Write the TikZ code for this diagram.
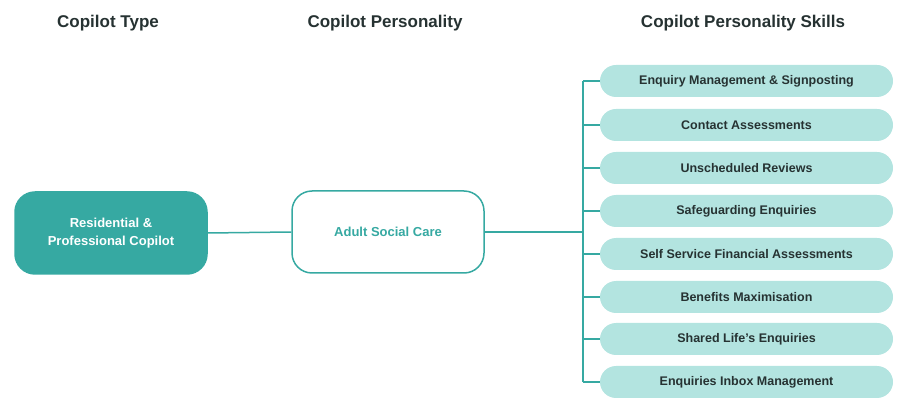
\documentclass[tikz,border=0pt]{standalone}
\usepackage{fontspec}
\setmainfont{Liberation Sans}
\definecolor{teal1}{HTML}{36A9A2}
\definecolor{pill}{HTML}{B3E4E0}
\definecolor{txt}{HTML}{263232}
\begin{document}
\begin{tikzpicture}[x=1pt,y=-1pt,
  hdr/.style={font=\bfseries\fontsize{17}{20}\selectfont, text=txt},
  bigbox/.style={rounded corners=20pt, minimum width=192pt, minimum height=82pt, align=center, font=\bfseries\fontsize{13}{18}\selectfont, line width=1.5pt},
  pillbox/.style={rounded corners=16pt, fill=pill, minimum width=293pt, minimum height=32pt, font=\bfseries\fontsize{12.5}{14}\selectfont, text=txt, inner sep=0pt},
  conn/.style={draw=teal1, line width=1.5pt}]
\useasboundingbox (0,0) rectangle (913,411);
\node[hdr] at (108,23) {Copilot Type};
\node[hdr] at (385,23) {Copilot Personality};
\node[hdr] at (743,23) {Copilot Personality Skills};
\node[bigbox, fill=teal1, draw=teal1, text=white] (rp) at (111,233) {Residential \&\\Professional Copilot};
\node[bigbox, fill=white, draw=teal1, text=teal1] (asc) at (388,232) {Adult Social Care};
\draw[conn] (rp.east) -- (asc.west);
\coordinate (j) at (583,232);
\draw[conn] (asc.east) -- (j);
\foreach \i/\y/\t in {1/81/Enquiry Management \& Signposting,2/125/Contact Assessments,3/168/Unscheduled Reviews,4/211/Safeguarding Enquiries,5/254/Self Service Financial Assessments,6/297/Benefits Maximisation,7/339/Shared Life’s Enquiries,8/382/Enquiries Inbox Management}{
  \node[pillbox] (s\i) at (746.5,\y) {\t};
  \coordinate (t\i) at (583,\y);
  \draw[conn] (t\i) -- (s\i.west);
}
\draw[conn] (t1) -- (t8);
\end{tikzpicture}
\end{document}
